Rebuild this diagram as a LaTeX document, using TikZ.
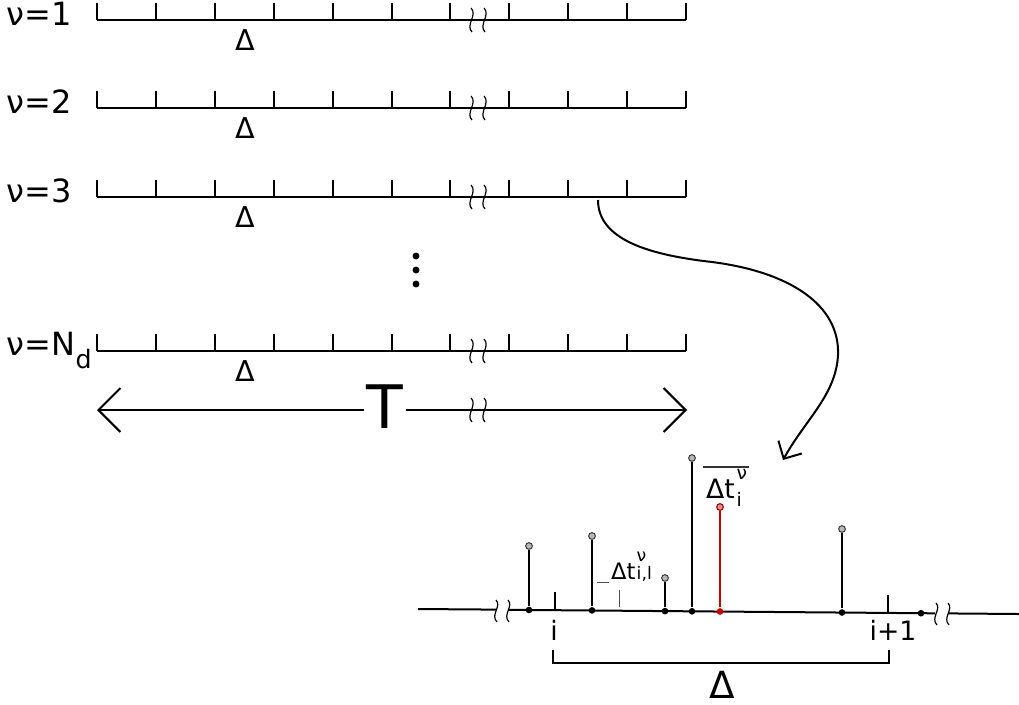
\documentclass[tikz,border=0pt]{standalone}
\usepackage{fontspec}
\setmainfont{DejaVu Sans}
\usetikzlibrary{arrows.meta}
\definecolor{stemred}{HTML}{CC0000}
\begin{document}
\begin{tikzpicture}[x=0.75pt,y=-0.75pt,line width=1.5pt,
  rowlab/.style={font=\fontsize{24}{24}\selectfont,inner sep=0pt,anchor=base west},
  dlab/.style={font=\fontsize{21.5}{21.5}\selectfont,inner sep=0pt,anchor=base},
  brk/.style={line width=0.9pt},
  basedot/.style={circle,fill=black,inner sep=0pt,minimum size=5pt},
  tipdot/.style={circle,draw=black!75,fill=gray!55,line width=0.8pt,inner sep=0pt,minimum size=5pt},
  ell/.style={circle,fill=black,inner sep=0pt,minimum size=5.2pt},
  thin/.style={line width=0.6pt,black!70}]
\useasboundingbox (0,0) rectangle (1019,704);

% ---- rows
\foreach \L/\n [count=\r] in {20/1,108/2,197/3}{
  \node[rowlab] (lab\r) at (6,\L+5) {ν=\n};
  \coordinate (s\r) at (97,\L);
  \coordinate (e\r) at (686,\L);
  \draw (s\r) -- (e\r);
  \foreach \k in {0,...,10}{\draw (97+58.9*\k,\L) -- ++(0,-17);}
  \node[dlab] (d\r) at (245,\L+30) {Δ};
  \draw[brk] (471,\L-12) .. controls (478,\L-5) and (465,\L+5) .. (472,\L+12);
  \draw[brk] (484,\L-12) .. controls (491,\L-5) and (478,\L+5) .. (485,\L+12);
}
% row N_d
\node[rowlab] (lab4) at (6,355) {ν=N\raisebox{-9.75pt}{\fontsize{19}{19}\selectfont d}};
\coordinate (s4) at (97,351);
\coordinate (e4) at (686,351);
\draw (s4) -- (e4);
\foreach \k in {0,...,10}{\draw (97+58.9*\k,351) -- ++(0,-17);}
\node[dlab] (d4) at (245,381) {Δ};
\draw[brk] (471,339) .. controls (478,346) and (465,356) .. (472,363);
\draw[brk] (484,339) .. controls (491,346) and (478,356) .. (485,363);

% ---- vertical dots
\node[ell] (v1) at (416,256) {};
\node[ell] (v2) at (416,270) {};
\node[ell] (v3) at (416,284) {};

% ---- T arrow
\node[font=\fontsize{45}{45}\selectfont,inner xsep=1.6pt,inner ysep=0pt,anchor=base] (T) at (385,428) {T};
\coordinate (Tl) at (97,410);
\coordinate (Tr) at (687,410);
\draw[-{Straight Barb[length=16.5pt,width=33pt]}] (T.west |- Tl) -- (Tl);
\draw[-{Straight Barb[length=16.5pt,width=33pt]}] (T.east |- Tr) -- (Tr);
\draw[brk] (471,398) .. controls (478,405) and (465,415) .. (472,422);
\draw[brk] (484,398) .. controls (491,405) and (478,415) .. (485,422);

% ---- curved arrow
\coordinate (c0) at (598,200);
\coordinate (c1) at (783,460);
\draw[-{Straight Barb[length=10pt,width=20pt]}] (c0) .. controls (598,240) and (650,255) .. (712,262)
  .. controls (790,272) and (840,305) .. (838,355)
  .. controls (836,395) and (805,420) .. (c1);

% ---- bottom axis
\coordinate (a0) at (418,609);
\coordinate (a1) at (496,609.6);
\coordinate (a2) at (508,609.8);
\coordinate (a3) at (935,613.3);
\coordinate (a4) at (948,613.4);
\coordinate (a5) at (1019,614);
\draw (a0) -- (a1);
\draw (a2) -- (a3);
\draw (a4) -- (a5);
\draw[brk] (496,600) .. controls (502,606) and (490,615) .. (497,622);
\draw[brk] (508,600) .. controls (514,606) and (502,615) .. (509,622);
\draw[brk] (936,603) .. controls (942,609) and (930,618) .. (937,625);
\draw[brk] (948,603) .. controls (954,609) and (942,618) .. (949,625);

% ticks i, i+1
\coordinate (ti0) at (555,610.2);
\coordinate (ti1) at (888,612.9);
\draw (ti0) -- ++(0,-18);
\draw (ti1) -- ++(0,-18);
\node[font=\fontsize{20}{20}\selectfont,inner sep=0pt,anchor=base] (li) at (554,640) {i};
\node[font=\fontsize{20}{20}\selectfont,inner sep=0pt,anchor=base] (li1) at (893,640) {i+1};

% stems
\foreach \x/\yb/\yt [count=\j] in {529/610/546,592/610.4/536,665/611.1/578,692/611.3/458,842/612.5/529}{
  \node[basedot] (b\j) at (\x,\yb) {};
  \node[tipdot] (t\j) at (\x,\yt) {};
  \draw (b\j) -- (t\j);
}
\node[basedot,fill=stemred] (br) at (720,611.5) {};
\node[tipdot,draw=stemred!80!black,fill=stemred!45] (tr) at (720,507) {};
\draw[stemred] (br) -- (tr);
\node[basedot] (b7) at (921,613.2) {};

% bracket
\coordinate (k0) at (553,650);
\coordinate (k1) at (889,650);
\draw (k0) -- ++(0,13) -| (k1);
\node[font=\fontsize{28}{28}\selectfont,inner sep=0pt,anchor=base] (D) at (722,698) {Δ};

% label Delta t_{i,l}^nu
\node[inner sep=0pt,anchor=base west,font=\fontsize{17}{17}\selectfont] (lt) at (610,579)
  {Δt\kern1pt\rlap{\raisebox{13pt}{\fontsize{13}{13}\selectfont ν}}{\fontsize{13}{13}\selectfont i,l}};
\draw[thin] (597,582) -- (609,582);
\draw[thin] (619,590) -- (619,607);

% label overline Delta t_i^nu
\node[inner sep=0pt,anchor=base west,font=\fontsize{20}{20}\selectfont] (ov) at (705,498)
  {Δt\kern1.5pt\rlap{\raisebox{14pt}{\fontsize{14}{14}\selectfont ν}}\raisebox{-6.5pt}{\fontsize{14}{14}\selectfont i}};
\coordinate (o1) at (703,467);
\coordinate (o2) at (749,467);
\draw[line width=1pt,black!80] (o1) -- (o2);
\end{tikzpicture}
\end{document}
